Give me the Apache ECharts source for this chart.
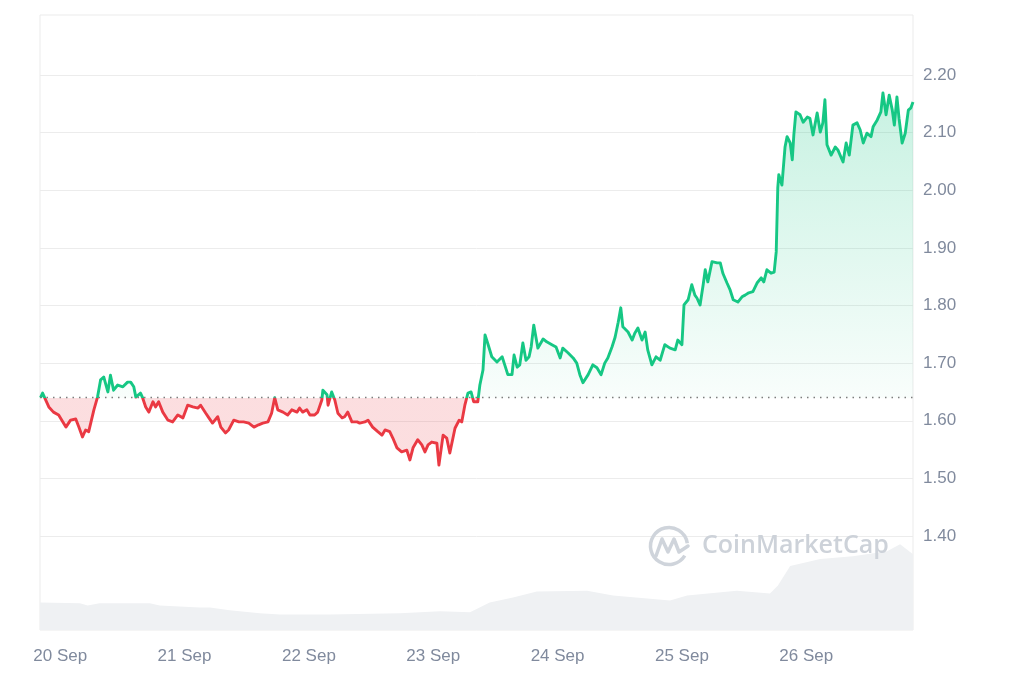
<!DOCTYPE html>
<html>
<head>
<meta charset="utf-8">
<script src="https://cdn.jsdelivr.net/npm/echarts@6/dist/echarts.min.js"></script>
<style>
html,body{margin:0;padding:0;background:#fff;}
#chart{width:1024px;height:683px;}
</style>
</head>
<body>
<div id="chart"></div>
<script>
// ---- Data (hours since 20 Sep 00:00, price in USD) ----
const priceHours = [
-3.8,-3.4,-2.2,-1.3,-0.3,1.1,2.0,3.0,3.6,4.3,4.9,5.5,6.5,7.2,7.8,8.4,9.2,9.7,10.3,11.1,
12.1,13.0,13.6,14.2,14.6,15.5,15.9,16.5,17.1,17.9,18.4,19.0,19.8,20.8,21.7,22.7,23.7,24.6,25.6,26.6,
27.1,28.1,28.7,29.4,30.4,31.0,31.9,32.5,33.5,34.5,35.4,36.4,37.4,38.3,39.1,40.1,40.8,41.4,42.0,43.0,
43.9,44.7,45.7,46.2,46.8,47.6,48.2,49.1,49.7,50.5,50.7,51.5,51.7,52.4,53.0,53.6,54.4,54.9,55.5,56.3,
57.3,57.8,58.8,59.4,60.3,61.3,62.1,62.7,63.6,64.2,65.0,65.9,66.9,67.5,68.1,69.0,69.8,70.4,71.0,71.7,
72.7,73.1,73.9,74.6,75.2,76.2,77.0,77.5,78.1,78.7,79.3,79.8,80.6,81.0,81.6,82.0,82.6,83.3,84.3,85.3,
85.8,86.4,87.2,87.6,88.2,88.7,89.3,89.9,90.5,90.9,91.4,92.2,93.2,93.9,94.9,95.7,96.5,97.0,98.0,99.0,
99.7,100.3,100.9,101.9,102.8,103.6,104.4,105.1,105.7,106.5,107.1,107.7,108.2,108.6,109.6,110.4,110.9,111.5,112.3,112.9,
113.4,114.2,115.0,115.8,116.7,117.7,118.7,119.2,120.0,120.4,121.2,121.9,122.5,122.9,123.5,124.1,124.5,125.0,125.8,126.8,
127.4,127.9,128.7,129.3,129.9,130.8,131.6,132.2,132.9,133.7,134.5,135.3,135.8,136.4,137.2,137.8,138.2,138.5,138.7,139.3,
139.9,140.3,140.9,141.3,141.6,142.0,142.8,143.4,144.2,144.7,145.3,146.1,146.7,147.2,147.6,148.0,148.8,149.6,150.1,151.1,
151.7,152.3,153.0,153.8,154.4,155.0,155.7,156.5,156.9,157.7,158.4,158.8,159.4,160.0,160.6,161.0,161.5,161.9,162.5,163.1,
163.7,164.2,164.6
];
const priceValues = [
1.640,1.648,1.624,1.615,1.610,1.589,1.601,1.603,1.589,1.572,1.584,1.581,1.619,1.641,1.671,1.676,1.650,1.679,1.653,1.662,
1.659,1.667,1.667,1.659,1.641,1.648,1.640,1.624,1.615,1.633,1.624,1.633,1.615,1.601,1.598,1.610,1.605,1.627,1.624,1.622,
1.627,1.613,1.605,1.596,1.607,1.589,1.579,1.584,1.601,1.598,1.598,1.596,1.589,1.593,1.596,1.598,1.613,1.640,1.619,1.615,
1.610,1.619,1.615,1.622,1.615,1.619,1.610,1.610,1.615,1.636,1.653,1.645,1.627,1.650,1.636,1.613,1.605,1.607,1.615,1.598,
1.598,1.596,1.598,1.601,1.589,1.581,1.575,1.584,1.581,1.570,1.553,1.546,1.549,1.532,1.553,1.567,1.558,1.546,1.558,1.563,
1.561,1.523,1.575,1.570,1.544,1.587,1.601,1.598,1.627,1.648,1.650,1.633,1.633,1.662,1.688,1.749,1.732,1.711,1.702,1.711,
1.697,1.680,1.680,1.714,1.693,1.697,1.735,1.705,1.711,1.728,1.766,1.726,1.742,1.737,1.732,1.728,1.709,1.726,1.718,1.709,
1.700,1.680,1.666,1.680,1.697,1.692,1.680,1.700,1.709,1.728,1.745,1.771,1.796,1.763,1.754,1.740,1.752,1.761,1.740,1.754,
1.723,1.697,1.711,1.705,1.732,1.726,1.723,1.740,1.732,1.801,1.810,1.836,1.818,1.813,1.801,1.836,1.862,1.841,1.876,1.874,
1.874,1.856,1.839,1.827,1.810,1.806,1.815,1.818,1.822,1.824,1.839,1.848,1.841,1.862,1.856,1.858,1.893,2.004,2.027,2.009,
2.075,2.093,2.082,2.053,2.096,2.136,2.131,2.118,2.127,2.125,2.096,2.134,2.101,2.117,2.157,2.079,2.061,2.075,2.070,2.049,
2.082,2.061,2.113,2.117,2.105,2.082,2.099,2.093,2.110,2.122,2.136,2.169,2.131,2.165,2.139,2.113,2.162,2.125,2.082,2.099,
2.139,2.143,2.153
];
const openPrice = 1.64;

const volumeHours = [-3.9,3.8,5.3,7.6,17.3,19.2,26.9,28.9,32.7,38.5,42.4,52.0,65.6,73.3,79.1,82.9,87.4,92.0,101.7,106.7,117.7,121.0,130.6,137.0,138.5,140.9,146.7,153.0,159.6,162.1,164.6];
const volumeValues = [67,65,60,65,65,60,55,55,48,41,38,38,41,46,43,67,79,94,96,84,72,84,96,89,108,156,173,180,192,209,185];

const dayLabels = ['20 Sep','21 Sep','22 Sep','23 Sep','24 Sep','25 Sep','26 Sep'];
const dayHours = [0,24,48,72,96,120,144];
const priceTicks = [1.4,1.5,1.6,1.7,1.8,1.9,2.0,2.1,2.2];

// ---- Chart ----
const GREEN = '#16c784', RED = '#ea3943';
const Y_MIN = 1.2369, Y_MAX = 2.3041;
const chart = echarts.init(document.getElementById('chart'), null, {renderer:'canvas'});
const priceData = priceHours.map((h,i)=>[h, priceValues[i]]);
const volumeData = volumeHours.map((h,i)=>[h, volumeValues[i]]);
const FONT = "'Liberation Sans', Arial, sans-serif";

const option = {
  animation:false,
  backgroundColor:'#ffffff',
  grid:{left:40,right:111,top:15,bottom:53,show:true,borderColor:'#ebebeb',borderWidth:1,backgroundColor:'transparent'},
  xAxis:{
    type:'value', min:-3.9, max:164.6,
    axisLine:{show:false}, axisTick:{show:false}, splitLine:{show:false},
    axisLabel:{
      customValues:dayHours, margin:18,
      color:'#808a9d', fontSize:17, fontFamily:FONT,
      formatter:(v)=>{ const i = dayHours.indexOf(Math.round(v)); return i>=0?dayLabels[i]:''; }
    }
  },
  yAxis:[{
    type:'value', position:'right', min:Y_MIN, max:Y_MAX,
    axisLine:{show:false},
    axisTick:{show:false, customValues:priceTicks},
    axisLabel:{customValues:priceTicks, margin:10, color:'#808a9d', fontSize:17, fontFamily:FONT,
      formatter:(v)=>v.toFixed(2)},
    splitLine:{show:true, lineStyle:{color:'#ececec', width:1}}
  },{
    type:'value', min:0, max:1500, show:false, splitLine:{show:false}
  }],
  series:[{
    type:'line', name:'Price', data:priceData, yAxisIndex:0,
    showSymbol:false, symbol:'none', z:3,
    lineStyle:{width:2.9, join:'round', color:GREEN},
    itemStyle:{color:GREEN},
    areaStyle:{origin:openPrice, color:'rgba(22,199,132,0.2)'},
    markLine:{
      silent:true, symbol:'none', label:{show:false},
      lineStyle:{color:'#7d7d7d', type:[1.5,5], width:1.3},
      data:[{yAxis:openPrice}]
    }
  },{
    type:'line', name:'Volume', data:volumeData, yAxisIndex:1,
    showSymbol:false, symbol:'none', z:1,
    lineStyle:{width:0},
    itemStyle:{color:'#eff1f3'},
    areaStyle:{color:'#eff1f3', opacity:1}
  }],
  graphic:[
    {type:'arc', z:100, shape:{cx:669, cy:546, r:18.5, startAngle:0.55, endAngle:Math.PI*2-0.15}, style:{stroke:'#cfd4db', lineWidth:3.5, fill:null}, silent:true},
    {type:'polyline', z:100, shape:{points:[[656,556],[662,539],[668,552],[674,539],[679,552],[688,546]]}, style:{stroke:'#cfd4db', lineWidth:3.5, fill:null, lineJoin:'round', lineCap:'round'}, silent:true},
    {type:'text', z:100, left:702, top:533, style:{text:'CoinMarketCap', fill:'#cdd2d9', font:"600 25px 'Open Sans', 'Liberation Sans', Arial, sans-serif"}, silent:true}
  ]
};
chart.setOption(option);

// Global gradients: green above the open price, red below.
const topPx = chart.convertToPixel({yAxisIndex:0}, Y_MAX);
const botPx = chart.convertToPixel({yAxisIndex:0}, Y_MIN);
const basePx = chart.convertToPixel({yAxisIndex:0}, openPrice);
const f = (basePx - topPx) / (botPx - topPx);
function grad(stops){ return {type:'linear', x:0, y:topPx, x2:0, y2:botPx, global:true, colorStops:stops}; }
chart.setOption({series:[{
  lineStyle:{color:grad([
      {offset:0, color:GREEN},{offset:f, color:GREEN},
      {offset:f, color:RED},{offset:1, color:RED}])},
  areaStyle:{origin:openPrice, color:grad([
      {offset:0, color:'rgba(22,199,132,0.42)'},
      {offset:f, color:'rgba(22,199,132,0.04)'},
      {offset:f, color:'rgba(234,57,67,0.24)'},
      {offset:1, color:'rgba(234,57,67,0.24)'}])}
},{}]});
</script>
</body>
</html>
